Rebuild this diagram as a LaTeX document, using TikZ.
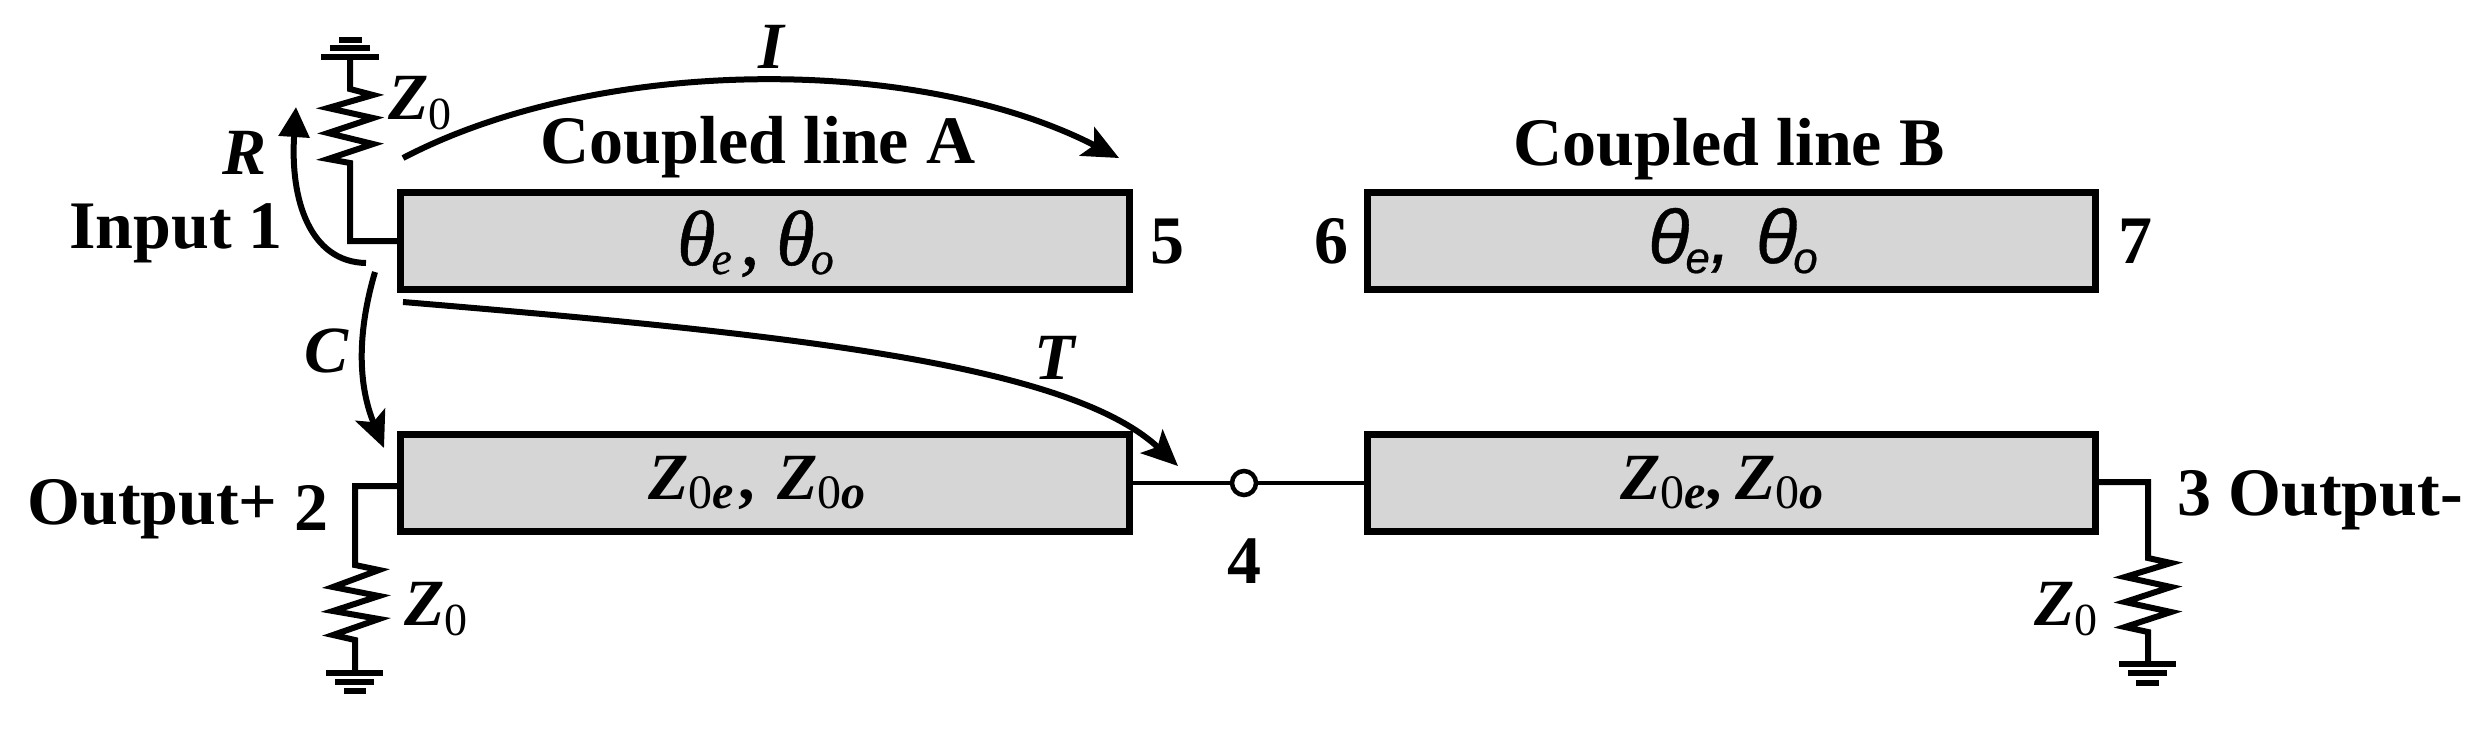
\documentclass[tikz,border=0pt]{standalone}
\usepackage{fontspec}
\setmainfont{Liberation Serif}
\newfontfamily\sansfam[FakeBold=0.5]{Liberation Sans}
\newfontfamily\thetafam[FakeBold=0.7]{Liberation Serif}
\usetikzlibrary{arrows.meta}
\newcommand{\fsz}[1]{\fontsize{#1}{#1}\selectfont}
\newcommand{\subr}[1]{\raisebox{-10pt}{\fsz{46}\upshape\mdseries #1}}
\newcommand{\subz}[1]{\raisebox{-9pt}{\fsz{48}\upshape\mdseries 0\bfseries\itshape #1}}
\newcommand{\subi}[1]{\raisebox{-9pt}{\fsz{46}\thetafam\itshape #1}}
\newcommand{\subs}[1]{\raisebox{-10pt}{\fsz{44}\sansfam\itshape #1}}
\tikzset{
 x=1pt,y=-1pt,
 wire/.style={draw=black,line width=6pt,line join=miter},
 gnd/.style={draw=black,line width=5.5pt},
 coupled/.style={draw=black,fill=black!16,line width=7pt,minimum width=729pt,minimum height=97pt,inner sep=0pt,outer sep=0pt},
 lab/.style={inner sep=0pt,anchor=base,font=\fsz{68}\bfseries,text=black},
 ilab/.style={inner sep=0pt,anchor=base,font=\fsz{66}\bfseries\itshape,text=black},
 mlab/.style={inner sep=0pt,anchor=base west,font=\fsz{78}\thetafam\itshape,text=black},
 wave/.style={draw=black,line width=6pt,-{Stealth[length=36pt,width=32pt,inset=8pt]}},
 waveR/.style={draw=black,line width=6pt,-{Triangle[length=30pt,width=30pt]}},
 port/.style={circle,draw=black,fill=white,line width=4.5pt,minimum size=24pt,inner sep=0pt,outer sep=0pt},
}
\begin{document}
\begin{tikzpicture}
\useasboundingbox[fill=white] (0,0) rectangle (2492,729);
% coupled-line sections
\node[coupled] (A1) at (765,241) {};
\node[coupled] (A2) at (765,483) {};
\node[coupled,minimum width=728pt] (B1) at (1731,241) {};
\node[coupled,minimum width=728pt] (B2) at (1731,483) {};
\node[port] (P4) at (1244,483) {};
% centre connection
\draw[draw=black,line width=4.5pt] (A2.east) -- (P4.west) (P4.east) -- (B2.west);
% input stub and load
\coordinate (inC) at (350,241);
\coordinate (inR) at (350,163);
\coordinate (inG) at (350,57);
\draw[wire] (A1.west) -- (inC) -- (inR) -- ++(-22,-4) -- ++(45,-15) -- ++(-45,-11) -- ++(45,-15) -- ++(-45,-10) -- ++(45,-13) -- ++(-23,-6) -- (inG);
\draw[gnd] (321,57) -- (379,57) (330,48) -- (370,48) (339,40) -- (362,40);
% output+ stub and load
\coordinate (oaS) at (401,486);
\coordinate (oaC) at (355,486);
\coordinate (oaR) at (355,565);
\coordinate (oaG) at (355,673);
\draw[wire] (oaS) -- (oaC) -- (oaR) -- ++(24,5) -- ++(-46,17) -- ++(46,9) -- ++(-46,15) -- ++(46,8) -- ++(-46,16) -- ++(22,5) -- (oaG);
\draw[gnd] (326,673) -- (383,673) (335,682) -- (374,682) (344,691) -- (366,691);
% output- stub and load
\coordinate (obS) at (2095,482);
\coordinate (obC) at (2148,482);
\coordinate (obR) at (2148,558);
\coordinate (obG) at (2148,664);
\draw[wire] (obS) -- (obC) -- (obR) -- ++(23,5) -- ++(-46,14) -- ++(46,10) -- ++(-46,15) -- ++(46,10) -- ++(-46,15) -- ++(23,5) -- (obG);
\draw[gnd] (2119,664) -- (2176,664) (2128,673) -- (2167,673) (2136,683) -- (2159,683);
% wave arrows
\coordinate (iS) at (403,158); \coordinate (iE) at (1119,158);
\coordinate (rS) at (366,263); \coordinate (rE) at (296,107);
\coordinate (cS) at (375,272); \coordinate (cE) at (384,448);
\coordinate (tS) at (403,302); \coordinate (tE) at (1178,466);
\draw[wave] (iS) .. controls (600,55) and (920,55) .. (iE);
\draw[waveR] (rS) .. controls (310,262) and (290,200) .. (rE);
\draw[wave] (cS) .. controls (355,340) and (360,390) .. (cE);
\draw[wave] (tS) .. controls (800,335) and (1070,365) .. (tE);
% labels
\node[lab] (tA) at (758,163) {Coupled line A};
\node[lab] (tB) at (1729,165) {Coupled line B};
\node[lab] (tIn) at (176,248) {Input 1};
\node[lab] (tOp) at (178,524) {Output+ \raisebox{-6pt}{2}};
\node[lab] (tOm) at (2320,515) {3 Output-};
\node[lab] (n4) at (1244,583) {4};
\node[lab] (n5) at (1167,263) {5};
\node[lab] (n6) at (1331,263) {6};
\node[lab] (n7) at (2135,263) {7};
\node[ilab] (lR) at (245,174) {R};
\node[ilab] (lI) at (771,68) {I};
\node[ilab] (lC) at (327,372) {C};
\node[ilab] (lT) at (1055,379) {T};
\node[ilab,anchor=base west] (z1) at (388,119) {Z\subr{0}};
\node[ilab,anchor=base west] (z2) at (404,625) {Z\subr{0}};
\node[ilab,anchor=base west] (z3) at (2034,625) {Z\subr{0}};
\node[mlab] (thA) at (677,265) {θ\kern-4pt\subi{e}\kern8pt,\kern17pt θ\kern-4pt\subi{o}};
\node[mlab,font=\fsz{76}\sansfam\itshape] (thB) at (1648,263) {θ\kern-4pt\subs{e},\kern25pt θ\kern-4pt\subs{o}};
\node[ilab,anchor=base west] (zA) at (648,499) {Z\subz{e}\kern5pt\upshape,\kern22pt\itshape Z\subz{o}};
\node[ilab,anchor=base west] (zB) at (1620,499) {Z\subz{e}\upshape,\kern13pt\itshape Z\subz{o}};
\end{tikzpicture}
\end{document}
